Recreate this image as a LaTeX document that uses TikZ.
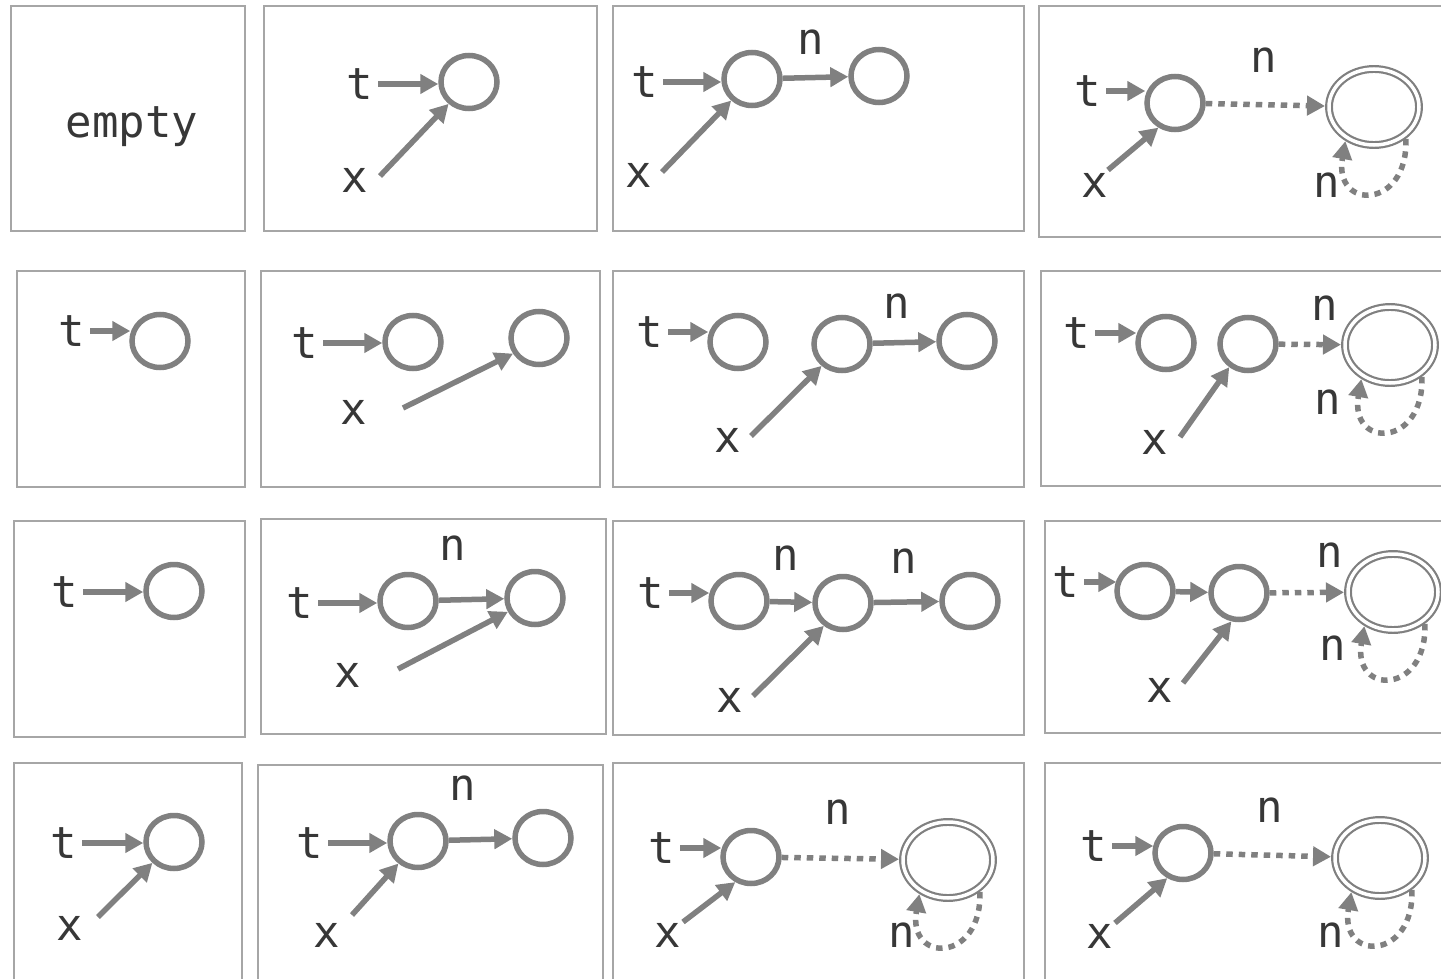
\documentclass[tikz,border=0pt]{standalone}
\usepackage{fontspec}
\usepackage{xcolor}
\usepackage{tikz}
\usetikzlibrary{arrows.meta,positioning,shapes.geometric}
\newfontfamily\DiagramMono{DejaVu Sans Mono}
\definecolor{FrameGray} {RGB}{166, 166, 166}
\definecolor{EdgeGray}  {RGB}{128, 128, 128}
\definecolor{LabelDark} {RGB}{ 55,  55,  55}
\tikzset{
  panel/.style={draw=FrameGray, line width=2pt},
  stnode/.style={ellipse, draw=EdgeGray, line width=5.5pt,
                 minimum width=56pt, minimum height=53pt, inner sep=0pt},
  acnode/.style={ellipse, draw=EdgeGray, line width=2.2pt,
                 double=white, double distance=3.5pt, outer sep=4pt,
                 minimum width=90pt, minimum height=76pt, inner sep=0pt},
  lbl/.style={text=LabelDark, inner sep=0pt,
              font=\fontsize{44}{44}\selectfont\DiagramMono},
  edge/.style={draw=EdgeGray, line width=5.5pt,
               -{Triangle[length=18pt,width=19pt]}},
  tin/.style={edge, shorten <=5pt},
  dotedge/.style={edge, dash pattern=on 6.5pt off 6pt},
  selfloop/.style={dotedge, out=-88, in=-100, looseness=3},
}

\begin{document}
\begin{tikzpicture}[x=1pt,y=-1pt]
  \useasboundingbox (0,0) rectangle (1441,979);

  % ---- Row 1 ----
  \draw[panel] (11,6) rectangle (245,231);
  \node[lbl] (aE) at (132,127) {empty};

  \draw[panel] (264,6) rectangle (597,231);
  \node[stnode] (b1) at (469,82) {};
  \node[lbl] (bT) at (360,84) {t};
  \node[lbl] (bX) at (355,180) {x};
  \draw[tin] (bT.east) -- (bT.east -| b1.west);
  \draw[edge] ([shift={(25,-4)}]bX.center) -- (b1.227);

  \draw[panel] (613,6) rectangle (1024,231);
  \node[stnode] (c1) at (752,79) {};
  \node[stnode] (c2) at (879,76) {};
  \node[lbl] (cT) at (645,82) {t};
  \node[lbl] (cX) at (639,175) {x};
  \node[lbl] (cN) at (811,42) {n};
  \draw[tin] (cT.east) -- (cT.east -| c1.west);
  \draw[edge] (c1) -- (c2);
  \draw[edge] ([shift={(23,-3)}]cX.center) -- (c1.226);

  \draw[panel] (1039,6) rectangle (1460,237);
  \node[stnode] (d1) at (1175,103) {};
  \node[acnode] (dA) at (1374,107) {};
  \node[lbl] (dT) at (1088,91) {t};
  \node[lbl] (dX) at (1095,185) {x};
  \node[lbl] (dN) at (1264,60) {n};
  \node[lbl] (dL) at (1327,185) {n};
  \draw[tin] (dT.east) -- ([xshift=1pt]dT.east -| d1.west);
  \draw[dotedge] (d1) -- (dA);
  \draw[selfloop] (dA.-45) to (dA.-130);
  \draw[edge] ([shift={(13,-15)}]dX.center) -- (d1.236);

  % ---- Row 2 ----
  \draw[panel] (17,271) rectangle (245,487);
  \node[stnode] (e1) at (160,341) {};
  \node[lbl] (eT) at (72,331) {t};
  \draw[tin] (eT.east) -- ([xshift=1pt]eT.east -| e1.west);

  \draw[panel] (261,271) rectangle (600,487);
  \node[stnode] (f1) at (413,342) {};
  \node[stnode] (f2) at (539,338) {};
  \node[lbl] (fT) at (305,343) {t};
  \node[lbl] (fX) at (354,412) {x};
  \draw[tin] (fT.east) -- (fT.east -| f1.west);
  \draw[edge] ([shift={(49,-4)}]fX.center) -- (f2.211);

  \draw[panel] (613,271) rectangle (1024,487);
  \node[stnode] (g1) at (738,342) {};
  \node[stnode] (g2) at (842,344) {};
  \node[stnode] (g3) at (967,341) {};
  \node[lbl] (gT) at (650,332) {t};
  \node[lbl] (gX) at (728,440) {x};
  \node[lbl] (gN) at (897,306) {n};
  \draw[tin] (gT.east) -- ([xshift=1pt]gT.east -| g1.west);
  \draw[edge] (g2) -- (g3);
  \draw[edge] ([shift={(23,-4)}]gX.center) -- (g2.227);

  \draw[panel] (1041,271) rectangle (1460,486);
  \node[stnode] (h1) at (1166,343) {};
  \node[stnode] (h2) at (1248,344) {};
  \node[acnode] (hA) at (1390,345) {};
  \node[lbl] (hT) at (1077,333) {t};
  \node[lbl] (hX) at (1155,442) {x};
  \node[lbl] (hN) at (1325,308) {n};
  \node[lbl] (hL) at (1328,402) {n};
  \draw[tin] (hT.east) -- ([xshift=1pt]hT.east -| h1.west);
  \draw[dotedge] (h2) -- (hA);
  \draw[selfloop] (hA.-45) to (hA.-130);
  \draw[edge] ([shift={(25,-5)}]hX.center) -- (h2.231);

  % ---- Row 3 ----
  \draw[panel] (14,521) rectangle (245,737);
  \node[stnode] (i1) at (174,591) {};
  \node[lbl] (iT) at (65,592) {t};
  \draw[tin] (iT.east) -- (iT.east -| i1.west);

  \draw[panel] (261,519) rectangle (606,734);
  \node[stnode] (j1) at (408,601) {};
  \node[stnode] (j2) at (535,598) {};
  \node[lbl] (jT) at (300,603) {t};
  \node[lbl] (jX) at (348,675) {x};
  \node[lbl] (jN) at (453,548) {n};
  \draw[tin] (jT.east) -- (jT.east -| j1.west);
  \draw[edge] (j1) -- (j2);
  \draw[edge] ([shift={(50,-6)}]jX.center) -- (j2.207);

  \draw[panel] (613,521) rectangle (1024,735);
  \node[stnode] (k1) at (739,601) {};
  \node[stnode] (k2) at (843,603) {};
  \node[stnode] (k3) at (970,601) {};
  \node[lbl] (kT) at (651,593) {t};
  \node[lbl] (kX) at (730,700) {x};
  \node[lbl] (kN) at (786,558) {n};
  \node[lbl] (kM) at (904,561) {n};
  \draw[tin] (kT.east) -- ([xshift=1pt]kT.east -| k1.west);
  \draw[edge] (k1) -- (k2);
  \draw[edge] (k2) -- (k3);
  \draw[edge] ([shift={(23,-4)}]kX.center) -- (k2.230);

  \draw[panel] (1045,521) rectangle (1460,733);
  \node[stnode] (l1) at (1145,591) {};
  \node[stnode] (l2) at (1239,593) {};
  \node[acnode] (lA) at (1393,592) {};
  \node[lbl] (lT) at (1066,582) {t};
  \node[lbl] (lX) at (1160,690) {x};
  \node[lbl] (lN) at (1330,555) {n};
  \node[lbl] (lL) at (1333,648) {n};
  \draw[tin] (lT.east) -- ([xshift=2pt]lT.east -| l1.west);
  \draw[edge] (l1) -- (l2);
  \draw[dotedge] (l2) -- (lA);
  \draw[selfloop] (lA.-45) to (lA.-130);
  \draw[edge] ([shift={(23,-7)}]lX.center) -- (l2.255);

  % ---- Row 4 ----
  \draw[panel] (14,763) rectangle (242,995);
  \node[stnode] (m1) at (174,842) {};
  \node[lbl] (mT) at (64,843) {t};
  \node[lbl] (mX) at (70,928) {x};
  \draw[tin] (mT.east) -- (mT.east -| m1.west);
  \draw[edge] ([shift={(28,-11)}]mX.center) -- (m1.224);

  \draw[panel] (258,765) rectangle (603,995);
  \node[stnode] (o1) at (418,841) {};
  \node[stnode] (o2) at (543,838) {};
  \node[lbl] (oT) at (310,843) {t};
  \node[lbl] (oX) at (327,935) {x};
  \node[lbl] (oN) at (463,788) {n};
  \draw[tin] (oT.east) -- (oT.east -| o1.west);
  \draw[edge] (o1) -- (o2);
  \draw[edge] ([shift={(25,-20)}]oX.center) -- (o1.229);

  \draw[panel] (613,763) rectangle (1024,995);
  \node[stnode] (p1) at (751,857) {};
  \node[acnode] (pA) at (948,860) {};
  \node[lbl] (pT) at (662,848) {t};
  \node[lbl] (pX) at (668,935) {x};
  \node[lbl] (pN) at (838,812) {n};
  \node[lbl] (pL) at (902,935) {n};
  \draw[tin] (pT.east) -- ([xshift=1pt]pT.east -| p1.west);
  \draw[dotedge] (p1) -- (pA);
  \draw[selfloop] (pA.-45) to (pA.-130);
  \draw[edge] ([shift={(15,-13)}]pX.center) -- (p1.238);

  \draw[panel] (1045,763) rectangle (1460,995);
  \node[stnode] (q1) at (1183,853) {};
  \node[acnode] (qA) at (1380,858) {};
  \node[lbl] (qT) at (1094,846) {t};
  \node[lbl] (qX) at (1100,936) {x};
  \node[lbl] (qN) at (1270,810) {n};
  \node[lbl] (qL) at (1331,935) {n};
  \draw[tin] (qT.east) -- ([xshift=1pt]qT.east -| q1.west);
  \draw[dotedge] (q1) -- (qA);
  \draw[selfloop] (qA.-45) to (qA.-130);
  \draw[edge] ([shift={(15,-13)}]qX.center) -- (q1.238);
\end{tikzpicture}
\end{document}
